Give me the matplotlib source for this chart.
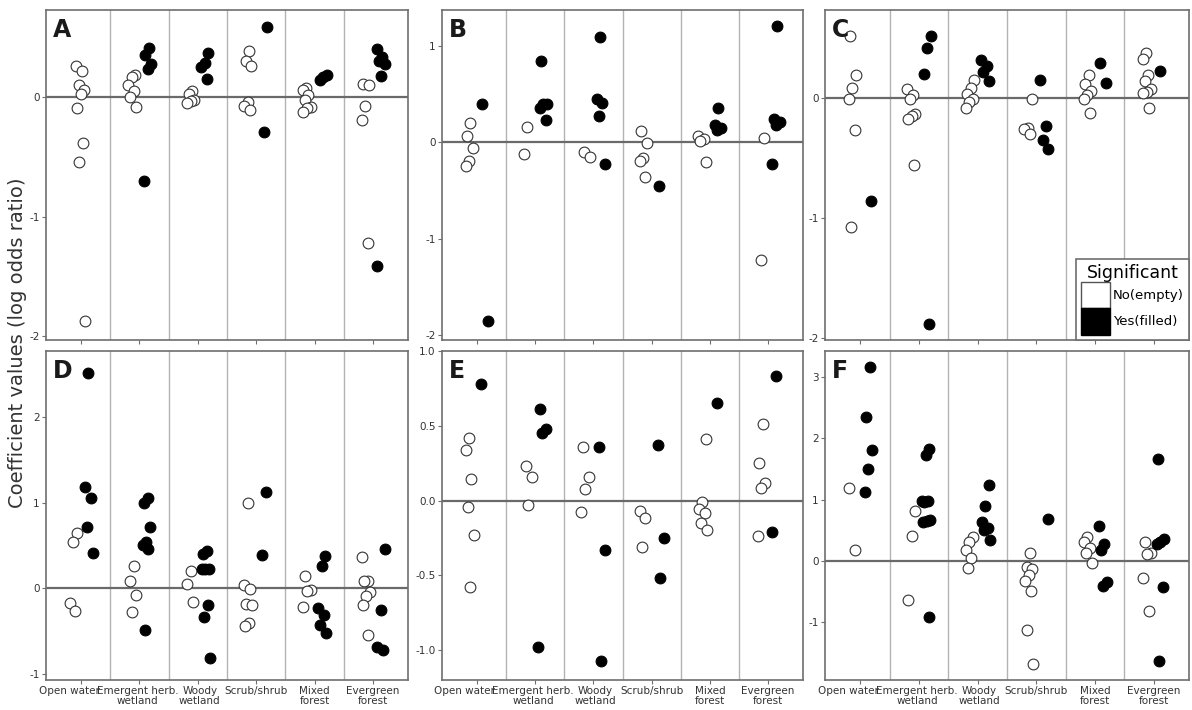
import numpy as np
import matplotlib
matplotlib.use("Agg")
import matplotlib.pyplot as plt
import matplotlib.transforms as mtransforms
from matplotlib.patches import Patch

plt.rcParams['font.family'] = ['DejaVu Sans']
plt.rcParams['axes.unicode_minus'] = False

# land cover classes (x axis)
classes = ["Open water", "Emergent herb.\nwetland", "Woody\nwetland",
           "Scrub/shrub", "Mixed\nforest", "Evergreen\nforest"]

# coefficients per class, not significant (empty) / significant (filled)
a_no = [[0.26, 0.22, 0.10, 0.06, 0.025, -0.09, -0.38, -0.54, -1.87],
        [0.19, 0.17, 0.10, 0.055, 0.005, -0.08],
        [0.055, 0.03, -0.02, -0.03, -0.045],
        [0.39, 0.30, 0.26, -0.04, -0.07, -0.11],
        [0.08, 0.06, 0.02, -0.02, -0.08, -0.09, -0.125],
        [0.11, 0.10, -0.07, -0.19, -1.22]]
a_yes = [[],
         [0.41, 0.35, 0.28, 0.24, -0.70],
         [0.37, 0.29, 0.25, 0.15],
         [0.59, -0.29],
         [0.19, 0.17, 0.145],
         [0.40, 0.34, 0.30, 0.28, 0.18, -1.41]]

b_no = [[0.20, 0.06, -0.06, -0.20, -0.25],
        [0.16, -0.12],
        [-0.10, -0.15],
        [0.12, -0.01, -0.165, -0.20, -0.36],
        [0.06, 0.03, 0.01, -0.21],
        [0.04, -1.22]]
b_yes = [[0.40, -1.85],
         [0.84, 0.40, 0.40, 0.35, 0.23],
         [1.09, 0.45, 0.41, 0.27, -0.23],
         [-0.45],
         [0.35, 0.18, 0.15, 0.13],
         [1.20, 0.24, 0.21, 0.18, -0.23]]

c_no = [[0.51, 0.19, 0.08, -0.01, -0.27, -1.08],
        [0.075, 0.02, -0.01, -0.14, -0.15, -0.175, -0.56],
        [0.15, 0.08, 0.03, -0.01, -0.04, -0.09],
        [-0.01, -0.25, -0.26, -0.305],
        [0.19, 0.11, 0.055, 0.02, -0.01, -0.125],
        [0.37, 0.32, 0.19, 0.14, 0.07, 0.05, 0.04, -0.09]]
c_yes = [[-0.86],
         [0.51, 0.41, 0.20, -1.89],
         [0.31, 0.26, 0.21, 0.14],
         [0.145, -0.24, -0.35, -0.43],
         [0.29, 0.125],
         [0.22]]

d_no = [[0.65, 0.545, -0.17, -0.27],
        [0.265, 0.08, -0.08, -0.28],
        [0.20, 0.05, -0.155],
        [1.00, 0.04, -0.01, -0.18, -0.20, -0.40, -0.44],
        [0.14, -0.02, -0.035, -0.22],
        [0.36, 0.09, 0.08, -0.04, -0.085, -0.20, -0.54]]
d_yes = [[2.51, 1.18, 1.05, 0.72, 0.41],
         [1.05, 1.00, 0.71, 0.54, 0.50, 0.46, -0.49],
         [0.43, 0.40, 0.22, 0.22, 0.22, -0.19, -0.33, -0.81],
         [1.13, 0.39],
         [0.38, 0.26, -0.23, -0.31, -0.43, -0.52],
         [0.46, -0.25, -0.69, -0.72]]

e_no = [[0.415, 0.34, 0.145, -0.045, -0.23, -0.58],
        [0.23, 0.16, -0.027],
        [0.355, 0.155, 0.08, -0.075],
        [-0.07, -0.12, -0.31],
        [0.41, -0.013, -0.055, -0.08, -0.15, -0.20],
        [0.515, 0.25, 0.115, 0.085, -0.24]]
e_yes = [[0.78],
         [0.61, 0.48, 0.45, -0.98],
         [0.36, -0.33, -1.07],
         [0.37, -0.25, -0.52],
         [0.65],
         [0.83, -0.21]]

f_no = [[1.18, 0.18],
        [0.81, 0.41, -0.64],
        [0.39, 0.31, 0.18, 0.05, -0.11],
        [0.135, -0.10, -0.135, -0.23, -0.32, -0.49, -1.12, -1.68],
        [0.39, 0.31, 0.205, 0.135, -0.04],
        [0.31, 0.135, 0.11, -0.28, -0.81]]
f_yes = [[3.16, 2.35, 1.80, 1.50, 1.12],
         [1.83, 1.73, 0.98, 0.97, 0.96, 0.67, 0.65, 0.63, -0.92],
         [1.23, 0.89, 0.64, 0.54, 0.51, 0.34],
         [0.69],
         [0.57, 0.27, 0.18, -0.34, -0.41],
         [1.66, 0.35, 0.31, 0.28, -0.43, -1.63]]

panels = [("A", a_no, a_yes, [-2, -1, 0], (-2.03, 0.73), "%d"),
          ("B", b_no, b_yes, [-2, -1, 0, 1], (-2.05, 1.37), "%d"),
          ("C", c_no, c_yes, [-2, -1, 0], (-2.02, 0.73), "%d"),
          ("D", d_no, d_yes, [-1, 0, 1, 2], (-1.07, 2.77), "%d"),
          ("E", e_no, e_yes, [-1.0, -0.5, 0.0, 0.5, 1.0], (-1.2, 1.0), "%.1f"),
          ("F", f_no, f_yes, [-1, 0, 1, 2, 3], (-1.94, 3.42), "%d")]

W, H = 1192, 710
fig = plt.figure(figsize=(W / 100, H / 100), dpi=100)

def box(l, t, r, b):
    return [l / W, 1 - b / H, (r - l) / W, (b - t) / H]

boxes = [box(46, 10, 408, 340), box(442, 10, 803, 340), box(825, 10, 1189, 340),
         box(46, 351, 408, 680), box(442, 351, 803, 680), box(825, 351, 1189, 680)]

def jitter(n, seed):
    # quasi-random spread inside a dodge slot
    k = np.arange(n) + seed
    return ((k * 0.618034) % 1.0 - 0.5) * 0.16

# nudge the crowded first labels apart (pixels)
label_shift = [-12, -2, 2, 0, 0, 0]

edge = "#6e6e6e"
for i, (letter, no, yes, yt, ylim, fmt) in enumerate(panels):
    ax = fig.add_axes(boxes[i])
    ax.set_xlim(0.4, 6.6)
    ax.set_ylim(*ylim)
    for s in ax.spines.values():
        s.set_color(edge)
        s.set_linewidth(1.2)
    for xb in np.arange(1.5, 6.5, 1.0):
        ax.axvline(xb, color="#b3b3b3", lw=1.0, zorder=0)
    ax.axhline(0, color="#6a6a6a", lw=1.6, zorder=1)

    for j in range(6):
        both = len(no[j]) > 0 and len(yes[j]) > 0
        dx = 0.13 if both else 0.0
        x0 = j + 1 - dx + jitter(len(no[j]), 3 * j + i)
        x1 = j + 1 + dx + jitter(len(yes[j]), 5 * j + i + 1)
        ax.scatter(x0, no[j], s=60, facecolor="white", edgecolor="#333333",
                   linewidths=0.8, zorder=3)
        ax.scatter(x1, yes[j], s=60, facecolor="black", edgecolor="black",
                   linewidths=0.8, zorder=4)

    ax.set_yticks(yt)
    ax.set_yticklabels([fmt % v for v in yt])
    ax.set_xticks(range(1, 7))
    ax.tick_params(colors=edge, labelcolor="#333333", labelsize=7.5, length=3)
    ax.tick_params(axis="y", pad=1.5)
    ax.tick_params(axis="x", pad=1.5)
    if i >= 3:
        ax.set_xticklabels(classes, fontsize=7.5, linespacing=0.95)
        for lab, sh in zip(ax.get_xticklabels(), label_shift):
            off = mtransforms.ScaledTranslation(sh / 100, 0, fig.dpi_scale_trans)
            lab.set_transform(lab.get_transform() + off)
    else:
        ax.set_xticklabels([])
    ax.text(0.02, 0.975, letter, transform=ax.transAxes, ha="left", va="top",
            fontsize=17, fontweight="bold", color="#1a1a1a")

    if letter == "C":
        handles = [Patch(facecolor="white", edgecolor="#555555"),
                   Patch(facecolor="black", edgecolor="black")]
        leg = ax.legend(handles, ["No(empty)", "Yes(filled)"], title="Significant",
                        loc="lower right", fontsize=9.5, title_fontsize=12.5,
                        handlelength=2.2, handleheight=2.7, labelspacing=0.0,
                        handletextpad=0.2, borderpad=0.4, borderaxespad=0.0,
                        fancybox=False, framealpha=1)
        leg.get_frame().set_edgecolor(edge)
        leg.get_frame().set_linewidth(1.2)

fig.text(18 / W, 1 - 343 / H, "Coefficient values (log odds ratio)",
         rotation=90, ha="center", va="center", fontsize=14, color="#333333")

fig.savefig("out.png", dpi=100)
